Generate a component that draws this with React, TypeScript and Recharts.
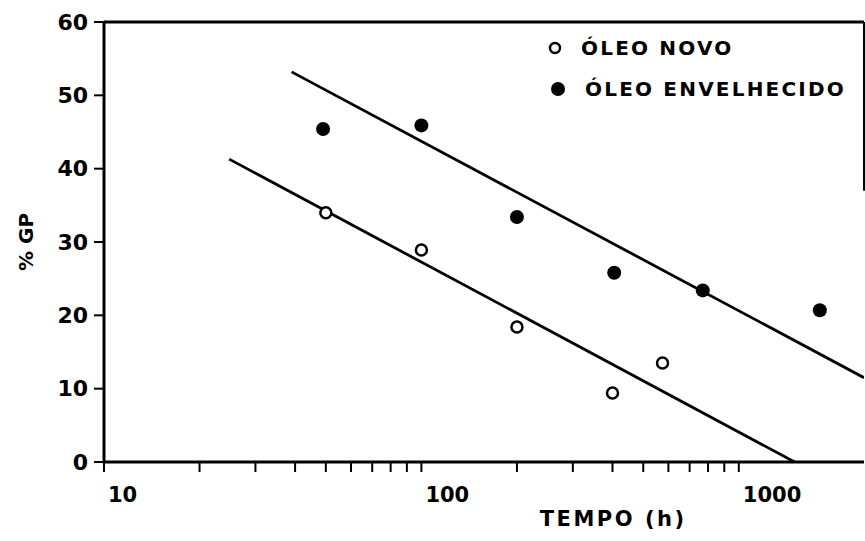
import {
  ComposedChart, Scatter, Line, XAxis, YAxis, ReferenceLine, Legend
} from 'recharts';

// tempo (h) e %GP
const novoTempo = [50, 100, 200, 400, 575];
const novoGP = [34.0, 28.9, 18.4, 9.4, 13.5];
const velhoTempo = [49, 100, 200, 405, 770, 1800];
const velhoGP = [45.4, 45.9, 33.4, 25.8, 23.4, 20.7];

// retas ajustadas (extremos)
const ajusteVelhoX = [39, 2480];
const ajusteVelhoY = [53.2, 11.5];
const ajusteNovoX = [24.8, 1500];
const ajusteNovoY = [41.3, 0];

const xTicks = [10, 20, 30, 40, 50, 60, 70, 80, 90, 100, 200, 300, 400, 500, 600, 700, 800, 900, 1000];
const xLabels = [10, 100, 1000];
const yTicks = [0, 10, 20, 30, 40, 50, 60];

const novo = novoTempo.map((x, i) => ({ x, y: novoGP[i] }));
const velho = velhoTempo.map((x, i) => ({ x, y: velhoGP[i] }));
const retaVelho = ajusteVelhoX.map((x, i) => ({ x, y: ajusteVelhoY[i] }));
const retaNovo = ajusteNovoX.map((x, i) => ({ x, y: ajusteNovoY[i] }));

const FONT = '"DejaVu Sans", sans-serif';

const XTick = (props: any) => {
  const { x, y, payload } = props;
  if (!xLabels.includes(payload.value)) return <g />;
  return (
    <text x={x + 4} y={y} dy={28} textAnchor="start" fill="#000"
      fontFamily={FONT} fontWeight="bold" fontSize={21}>
      {payload.value}
    </text>
  );
};

const OpenDot = (props: any) => (
  <circle cx={props.cx} cy={props.cy} r={5.5} fill="#fff" stroke="#000" strokeWidth={2.5} />
);
const FilledDot = (props: any) => (
  <circle cx={props.cx} cy={props.cy} r={7} fill="#000" />
);

const renderLegend = () => {
  const rows = [
    { name: 'ÓLEO NOVO', filled: false },
    { name: 'ÓLEO ENVELHECIDO', filled: true },
  ];
  return (
    <div style={{ fontFamily: FONT, fontWeight: 'bold', fontSize: 20, letterSpacing: 2.2, color: '#000' }}>
      {rows.map((r) => (
        <div key={r.name} style={{ display: 'flex', alignItems: 'center', height: 41 }}>
          <svg width={26} height={20} style={{ marginRight: r.filled ? 14 : 10 }}>
            {r.filled
              ? <circle cx={13} cy={10} r={7} fill="#000" />
              : <circle cx={10} cy={10} r={5} fill="#fff" stroke="#000" strokeWidth={2.5} />}
          </svg>
          <span>{r.name}</span>
        </div>
      ))}
    </div>
  );
};

export default function App() {
  return (
    <div style={{ position: 'absolute', left: 0, top: 0, background: '#fff' }}>
      <ComposedChart width={865} height={541} margin={{ top: 22, right: 1, bottom: 0, left: 8 }}>
        <XAxis
          type="number"
          dataKey="x"
          scale="log"
          domain={[10, 2480]}
          allowDataOverflow
          ticks={xTicks}
          interval={0}
          tick={<XTick />}
          tickSize={10}
          tickMargin={2}
          height={79}
          axisLine={{ stroke: '#000', strokeWidth: 3 }}
          tickLine={{ stroke: '#000', strokeWidth: 2 }}
          label={{
            content: (p: any) => {
              const vb = p.viewBox;
              return (
                <text x={vb.x + vb.width * 0.67} y={vb.y + 64} textAnchor="middle"
                  fontFamily={FONT} fontWeight="bold" fontSize={21} letterSpacing={2.5} fill="#000">
                  TEMPO (h)
                </text>
              );
            },
          }}
        />
        <YAxis
          type="number"
          dataKey="y"
          domain={[0, 60]}
          ticks={yTicks}
          interval={0}
          width={96}
          tickSize={10}
          tickMargin={6}
          axisLine={{ stroke: '#000', strokeWidth: 3 }}
          tickLine={{ stroke: '#000', strokeWidth: 2 }}
          tick={{ fill: '#000', fontSize: 22, fontWeight: 'bold', fontFamily: FONT }}
          label={{
            value: '% GP', angle: -90, position: 'insideLeft', offset: 18,
            style: { fontFamily: FONT, fontWeight: 'bold', fontSize: 20, fill: '#000', textAnchor: 'middle' },
          }}
        />
        <ReferenceLine y={60} stroke="#000" strokeWidth={3} />
        <ReferenceLine segment={[{ x: 2480, y: 60 }, { x: 2480, y: 37 }]} stroke="#000" strokeWidth={2} />
        <Line data={retaVelho} dataKey="y" type="linear" stroke="#000" strokeWidth={2.8}
          dot={false} activeDot={false} legendType="none" isAnimationActive={false} />
        <Line data={retaNovo} dataKey="y" type="linear" stroke="#000" strokeWidth={2.8}
          dot={false} activeDot={false} legendType="none" isAnimationActive={false} />
        <Scatter name="ÓLEO NOVO" data={novo} dataKey="y" shape={<OpenDot />} isAnimationActive={false} />
        <Scatter name="ÓLEO ENVELHECIDO" data={velho} dataKey="y" shape={<FilledDot />} isAnimationActive={false} />
        <Legend
          layout="vertical"
          align="center"
          verticalAlign="middle"
          content={renderLegend}
          wrapperStyle={{ left: 545, top: 27, width: 318 }}
        />
      </ComposedChart>
    </div>
  );
}
